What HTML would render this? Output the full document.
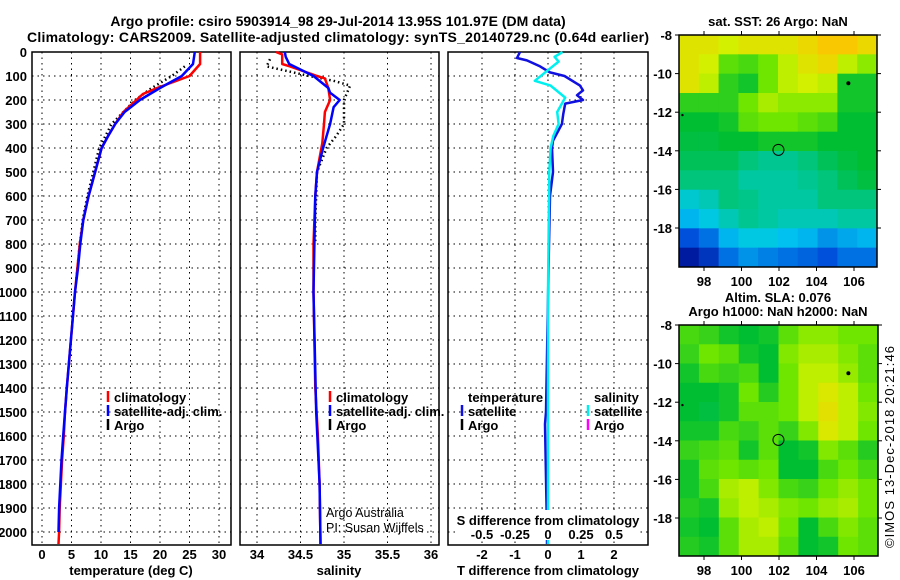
<!DOCTYPE html>
<html><head><meta charset="utf-8"><style>
html,body{margin:0;padding:0;background:#fff;}
svg{display:block;font-family:"Liberation Sans",sans-serif;}
.b{font-weight:bold;font-size:13px;}
</style></head><body>
<svg id="s" width="900" height="580" viewBox="0 0 900 580">
<text x="338" y="26" text-anchor="middle" class="b" style="font-size:14px">Argo profile: csiro 5903914_98 29-Jul-2014 13.95S 101.97E (DM data)</text>
<text x="338" y="42" text-anchor="middle" class="b" style="font-size:14px" textLength="622">Climatology: CARS2009. Satellite-adjusted climatology: synTS_20140729.nc (0.64d earlier)</text>
<text x="778" y="26" text-anchor="middle" class="b">sat. SST: 26 Argo: NaN</text>
<text x="778" y="302" text-anchor="middle" class="b">Altim. SLA: 0.076</text>
<text x="778" y="316" text-anchor="middle" class="b">Argo h1000: NaN h2000: NaN</text>
<text transform="translate(894,548) rotate(-90)" style="font-size:13px" textLength="202">©IMOS 13-Dec-2018 20:21:46</text>
<g id="g"></g>
</svg>
<script>
// ---- data ----
const tempClimDepth=[0,50,100,150,175,200,250,300,350,400,500,600,700,800,900,1000,1400,1500,1600,1700,1800,1900,2000,2050];
const tempClim=[26.8,26.8,25,19.5,17.1,16,13.8,12.4,11.2,10.1,9,7.9,7,6.4,6,5.6,4.2,3.9,3.7,3.4,3.2,3.0,2.9,2.8];
const tempSatDepth=[0,50,100,150,200,250,300,350,400,500,600,700,800,900,1000,1400,1500,1600,1700,1800,1900,2000];
const tempSat=[25.9,25.6,23.7,20,16.6,14,12.4,11.2,10.1,9,7.9,7,6.5,6.1,5.6,4.2,3.9,3.6,3.3,3.1,2.9,2.8];
const tempArgoDepth=[60,100,150,200,300,400,500,600,700,800,950];
const tempArgo=[24.2,22,18.6,15.8,11.8,9.7,8.7,7.7,6.9,6.4,5.8];
const salClimDepth=[0,10,50,60,100,110,150,200,250,300,380,400,500,600,800,1000,1400,1600,1800,2050];
const salClim=[34.22,34.29,34.29,34.38,34.69,34.78,34.82,34.84,34.78,34.77,34.75,34.74,34.69,34.67,34.65,34.65,34.67,34.7,34.72,34.73];
const salSatDepth=[0,20,50,100,150,170,200,230,300,400,500,600,1000,1500,1800,2050];
const salSat=[34.32,34.33,34.37,34.65,34.82,34.84,34.95,34.88,34.84,34.76,34.69,34.67,34.65,34.68,34.72,34.73];
const salArgoDepth=[30,60,100,120,140,200,250,300,350,400,500,700,800];
const salArgo=[34.15,34.11,34.6,34.88,35.07,35.0,35.0,35.0,34.91,34.8,34.69,34.67,34.67];
const tDiffDepth=[0,25,35,60,85,100,140,160,180,200,215,260,300,370,400,500,600,800,1500,1550,2000,2050];
const tDiff=[-0.85,-0.94,-0.64,-0.24,0.06,0.5,0.97,1.06,0.88,1.06,0.52,0.46,0.42,0.15,0.12,0.15,0.06,0.03,-0.06,-0.09,-0.03,-0.03];
const sDiffDepth=[0,20,40,80,120,140,190,250,300,350,400,500,1000,2050];
const sDiff=[0.11,0.05,0.08,-0.01,-0.1,0.02,0.13,0.07,0.08,0.04,0.02,0.01,0,0];
const depthTicks=[0,100,200,300,400,500,600,700,800,900,1000,1100,1200,1300,1400,1500,1600,1700,1800,1900,2000];
const tempTicks=[0,5,10,15,20,25,30];
const salTicks=[34,34.5,35,35.5,36];
const salTickLabels=["34","34.5","35","35.5","36"];
const tdTicks=[-2,-1,0,1,2];
const sdTicks=[-0.5,-0.25,0,0.25,0.5];
const sdTickLabels=["-0.5","-0.25","0","0.25","0.5"];
const lonTicks=[98,100,102,104,106];
const latTicks=[-8,-10,-12,-14,-16,-18];
const sstGrid=[
[.85,.85,.82,.85,.85,.85,.88,.92,.92,.88],
[.85,.82,.7,.68,.72,.8,.85,.88,.8,.75],
[.85,.8,.65,.62,.72,.8,.82,.8,.62,.62],
[.65,.65,.65,.72,.78,.75,.75,.75,.62,.62],
[.6,.6,.62,.7,.72,.72,.7,.68,.6,.6],
[.58,.58,.6,.6,.62,.62,.62,.6,.6,.6],
[.55,.55,.55,.5,.47,.47,.5,.55,.58,.6],
[.5,.5,.5,.45,.45,.45,.47,.5,.55,.58],
[.38,.42,.5,.48,.45,.45,.45,.5,.5,.5],
[.3,.35,.42,.47,.45,.42,.42,.42,.45,.45],
[.15,.2,.3,.35,.35,.32,.3,.25,.28,.3],
[.05,.1,.2,.25,.22,.2,.18,.15,.2,.2]];
const slaGrid=[
[.68,.66,.62,.6,.62,.7,.75,.75,.72,.72],
[.66,.72,.7,.62,.6,.74,.78,.78,.74,.7],
[.62,.68,.66,.68,.6,.72,.8,.8,.76,.7],
[.6,.6,.62,.72,.64,.72,.8,.84,.8,.72],
[.6,.58,.62,.7,.7,.72,.8,.86,.8,.74],
[.62,.62,.68,.66,.7,.66,.74,.84,.8,.72],
[.66,.68,.7,.62,.7,.6,.62,.74,.7,.64],
[.62,.7,.72,.7,.72,.6,.6,.68,.72,.68],
[.62,.68,.78,.8,.74,.68,.66,.72,.76,.72],
[.64,.62,.76,.8,.78,.74,.72,.76,.78,.72],
[.62,.6,.7,.78,.8,.72,.6,.68,.74,.7],
[.64,.62,.7,.78,.78,.7,.6,.62,.72,.7]];
// ---- helpers ----
const NS="http://www.w3.org/2000/svg";
const G=document.getElementById('g');
function mk(tag,attrs,parent){const e=document.createElementNS(NS,tag);for(const k in attrs)e.setAttribute(k,attrs[k]);(parent||G).appendChild(e);return e;}
const TOP=52,BOT=545;
const yD=d=>TOP+d*0.24;
const xT=t=>42+t*5.9;
const xS=s=>257+(s-34)*87;
const xTD=t=>548+t*33;
const xSD=s=>548+s*132;
function frame(x0,x1,name){
  const r=mk('rect',{x:x0,y:TOP,width:x1-x0,height:BOT-TOP,fill:'none',stroke:'#000','stroke-width':1.5});
  
  
  depthTicks.forEach(d=>{const l=mk('line',{x1:x0,x2:x1,y1:yD(d),y2:yD(d),stroke:'#000','stroke-dasharray':'1.5,4','stroke-width':1});
    
    });
}
function vgrid(xs,fx,x0,name){xs.forEach(v=>{const l=mk('line',{x1:fx(v),x2:fx(v),y1:TOP,y2:BOT,stroke:'#000','stroke-dasharray':'1.5,4','stroke-width':1});
  
  });}
function line(ds,vs,fx,color,w,dash,name){
  const pts=ds.map((d,i)=>fx(vs[i]).toFixed(1)+','+yD(d).toFixed(1)).join(' ');
  const p=mk('polyline',{points:pts,fill:'none',stroke:color,'stroke-width':w,'stroke-linejoin':'round'});
  if(dash)p.setAttribute('stroke-dasharray',dash);
  
  
}
function txt(x,y,s,cls,anchor,name,style){const t=mk('text',{x:x,y:y,'text-anchor':anchor||'start'});if(cls)t.setAttribute('class',cls);if(style)t.setAttribute('style',style);t.textContent=s;
  
  return t;}
// panel 1
frame(32,231,'temperature-panel-frame');
vgrid(tempTicks,xT,32,'temperature-gridline');
depthTicks.forEach(d=>txt(27,yD(d)+5,String(d),'b','end','depth-tick-label'));
tempTicks.forEach(t=>txt(xT(t),559,String(t),'b','middle','temperature-tick-label'));
txt(131,575,'temperature (deg C)','b','middle','temperature-axis-title');
line(tempArgoDepth,tempArgo,xT,'#000',2.5,'1.5,3','temperature-argo-line');
line(tempClimDepth,tempClim,xT,'#f00',2.5,null,'temperature-climatology-line');
line(tempSatDepth,tempSat,xT,'#00f',2.5,null,'temperature-satellite-line');
// panel 2
frame(240,439,'salinity-panel-frame');
vgrid(salTicks,xS,240,'salinity-gridline');
salTicks.forEach((s,i)=>txt(xS(s),559,salTickLabels[i],'b','middle','salinity-tick-label'));
txt(339,575,'salinity','b','middle','salinity-axis-title');
line(salArgoDepth,salArgo,xS,'#000',2.5,'1.5,3','salinity-argo-line');
line(salClimDepth,salClim,xS,'#f00',2.5,null,'salinity-climatology-line');
line(salSatDepth,salSat,xS,'#00f',2.5,null,'salinity-satellite-line');
txt(326,517,'Argo Australia',null,'start','credit-argo-australia','font-size:12.5px');
txt(326,532,'PI: Susan Wijffels',null,'start','credit-pi','font-size:12.5px');
// panel 3
frame(448,648,'difference-panel-frame');
vgrid(tdTicks,xTD,448,'difference-gridline');
line(tDiffDepth,tDiff,xTD,'#1010e0',2.5,null,'temperature-difference-line');
line(sDiffDepth,sDiff,xSD,'#00f0f0',2.5,null,'salinity-difference-line');
tdTicks.forEach(t=>txt(xTD(t),559,String(t),'b','middle','t-difference-tick-label'));
txt(548,575,'T difference from climatology','b','middle','t-difference-axis-title');
mk('rect',{x:455,y:510,width:185,height:30,fill:'#fff'});
txt(548,525,'S difference from climatology','b','middle','s-difference-axis-title');
sdTicks.forEach((s,i)=>txt(xSD(s),539,sdTickLabels[i],'b','middle','s-difference-tick-label'));
// legends
function leg(x,y,c,label,name){mk('line',{x1:x,x2:x,y1:y-11,y2:y,stroke:c,'stroke-width':2.5});txt(x+6,y,label,'b','start',name);}
leg(108,402,'#f00','climatology','legend-climatology');
leg(108,416,'#00f','satellite-adj. clim.','legend-satellite-adj');
leg(108,430,'#000','Argo','legend-argo');
leg(330,402,'#f00','climatology','legend-sal-climatology');
leg(330,416,'#00f','satellite-adj. clim.','legend-sal-satellite-adj');
leg(330,430,'#000','Argo','legend-sal-argo');
txt(468,402,'temperature','b','start','legend-temperature-heading');
leg(462,416,'#1010e0','satellite','legend-t-satellite');
leg(462,430,'#000','Argo','legend-t-argo');
txt(594,402,'salinity','b','start','legend-salinity-heading');
leg(588,416,'#00f0f0','satellite','legend-s-satellite');
leg(588,430,'#f0f','Argo','legend-s-argo');
// maps
const cstops=[[0,[0,0,130]],[.15,[0,80,220]],[.33,[0,200,240]],[.45,[0,200,160]],[.6,[0,190,50]],[.72,[110,230,0]],[.82,[210,240,0]],[.92,[250,200,0]],[1,[250,140,0]]];
function cmap(v){for(let i=1;i<cstops.length;i++){if(v<=cstops[i][0]){const a=cstops[i-1],b=cstops[i],f=(v-a[0])/(b[0]-a[0]);return 'rgb('+a[1].map((c,k)=>Math.round(c+(b[1][k]-c)*f)).join(',')+')';}}return 'rgb(250,140,0)';}
function map(x0,x1,y0,y1,grid,name){
  const xL=lon=>704+(lon-98)*18.75;
  const yL=lat=>y0+(-8-lat)*19.3;
  const rows=grid.length,cols=grid[0].length,cw=(x1-x0)/cols,ch=(y1-y0)/rows;
  grid.forEach((row,r)=>row.forEach((v,c)=>{const e=mk('rect',{x:x0+c*cw,y:y0+r*ch,width:cw+0.5,height:ch+0.5,fill:cmap(v)});
    
    }));
  const f=mk('rect',{x:x0,y:y0,width:x1-x0,height:y1-y0,fill:'none',stroke:'#000','stroke-width':1.5});
  
  
  lonTicks.forEach(l=>{mk('line',{x1:xL(l),x2:xL(l),y1:y0-4,y2:y0,stroke:'#000'});mk('line',{x1:xL(l),x2:xL(l),y1:y1,y2:y1+4,stroke:'#000'});txt(xL(l),y1+19,String(l),'b','middle',name+'-lon-label');});
  latTicks.forEach(l=>{mk('line',{x1:x0-4,x2:x0,y1:yL(l),y2:yL(l),stroke:'#000'});mk('line',{x1:x1,x2:x1+4,y1:yL(l),y2:yL(l),stroke:'#000'});txt(672,yL(l)+5,String(l),'b','end',name+'-lat-label');});
  const c=mk('circle',{cx:xL(101.97),cy:yL(-13.95),r:5.5,fill:'none',stroke:'#000','stroke-width':1});
  
  
  mk('circle',{cx:xL(105.7),cy:yL(-10.5),r:2,fill:'#000'});
  mk('circle',{cx:xL(96.85),cy:yL(-12.15),r:1.2,fill:'#000'});
}
map(679,877,35,267,sstGrid,'sst-map');
map(679,878,325,556,slaGrid,'sla-map');
</script>
</body></html>
